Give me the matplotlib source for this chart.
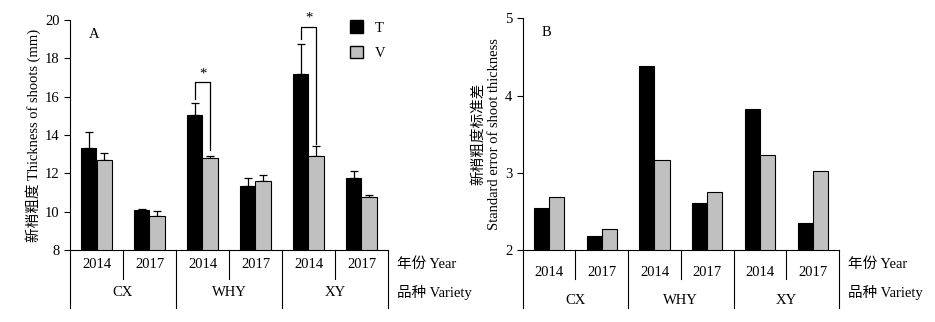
import numpy as np
import matplotlib
matplotlib.use("Agg")
import matplotlib.pyplot as plt
from matplotlib.patches import Patch

plt.rcParams['font.family'] = ['Liberation Serif', 'Noto Sans CJK SC']
plt.rcParams['font.size'] = 10.5

years = ['2014', '2017', '2014', '2017', '2014', '2017']
varieties = ['CX', 'WHY', 'XY']

# panel A: mean thickness of shoots (mm) and error
thick_T = [13.32, 10.07, 15.03, 11.32, 17.16, 11.74]
thick_V = [12.68, 9.76, 12.78, 11.58, 12.89, 10.75]
err_T = [0.82, 0.08, 0.62, 0.45, 1.57, 0.40]
err_V = [0.40, 0.30, 0.11, 0.32, 0.52, 0.10]

# panel B: standard error of shoot thickness
se_T = [2.54, 2.18, 4.38, 2.61, 3.83, 2.35]
se_V = [2.69, 2.27, 3.17, 2.75, 3.23, 3.02]

fig = plt.figure(figsize=(9.35, 3.22), dpi=100)
axA = fig.add_axes([70/935, 1-250/322, 318/935, 230/322])
axB = fig.add_axes([522.7/935, 1-250/322, 316.3/935, 231.7/322])

x = np.arange(6) + 0.5
gray = '#c0c0c0'


def style(ax, hpx):
    for s in ['top', 'right']:
        ax.spines[s].set_visible(False)
    ax.set_xlim(0, 6)
    ax.set_xticks([])
    ax.tick_params(axis='y', direction='out', length=4, width=0.8)
    tr = ax.get_xaxis_transform()
    # dividers below axis
    for xv in [1, 3, 5]:
        ax.plot([xv, xv], [0, -29/hpx], color='k', lw=0.8, transform=tr, clip_on=False)
    for xv in [0, 2, 4, 6]:
        ax.plot([xv, xv], [0, -58/hpx], color='k', lw=0.8, transform=tr, clip_on=False)


# ---- panel A
w = 0.30
axA.bar(x - w/2, thick_T, w, color='black', edgecolor='black', lw=0.8, zorder=2)
axA.bar(x + w/2, thick_V, w, color=gray, edgecolor='black', lw=0.8, zorder=2)
axA.errorbar(x - w/2, thick_T, yerr=[np.zeros(6), err_T], fmt='none', ecolor='black',
             elinewidth=0.9, capsize=3, capthick=0.9, zorder=1)
axA.errorbar(x + w/2, thick_V, yerr=[np.zeros(6), err_V], fmt='none', ecolor='black',
             elinewidth=0.9, capsize=3, capthick=0.9, zorder=1)
axA.set_ylim(8, 20)
axA.set_yticks(np.arange(8, 21, 2))
style(axA, 230)

# significance brackets
for i, (lb, top, rb, st) in [(2, (15.89, 16.75, 13.2, 17.2)), (4, (19.02, 19.65, 13.55, 20.1))]:
    axA.plot([x[i] - w/2, x[i] - w/2, x[i] + w/2, x[i] + w/2], [lb, top, top, rb],
             color='black', lw=0.9, clip_on=False)
    axA.text(x[i], st, '*', ha='center', va='center', fontsize=10.5, clip_on=False)

axA.text(0.06, 0.935, 'A', transform=axA.transAxes, ha='left', va='center')
axA.set_ylabel('新梢粗度 Thickness of shoots (mm)', labelpad=3)

trA = axA.get_xaxis_transform()
for i in range(6):
    axA.text(x[i], -14/230, years[i], transform=trA, ha='center', va='center')
for j in range(3):
    axA.text(2*j + 1, -42/230, varieties[j], transform=trA, ha='center', va='center')
axA.text(6.17, -14/230, '年份 Year', transform=trA, ha='left', va='center')
axA.text(6.17, -42/230, '品种 Variety', transform=trA, ha='left', va='center')

axA.legend(handles=[Patch(facecolor='black', edgecolor='black', label='T'),
                    Patch(facecolor=gray, edgecolor='black', label='V')],
           loc='upper left', bbox_to_anchor=(0.84, 1.055), frameon=False,
           handlelength=0.9, handleheight=0.9, handletextpad=0.8, labelspacing=0.8)

# ---- panel B
wb = 0.285
axB.bar(x - wb/2, se_T, wb, color='black', edgecolor='black', lw=0.8)
axB.bar(x + wb/2, se_V, wb, color=gray, edgecolor='black', lw=0.8)
axB.set_ylim(2, 5)
axB.set_yticks([2, 3, 4, 5])
style(axB, 231.7)
axB.text(0.06, 0.94, 'B', transform=axB.transAxes, ha='left', va='center')
axB.set_ylabel('新梢粗度标准差\nStandard error of shoot thickness', labelpad=3, linespacing=1.2)

trB = axB.get_xaxis_transform()
for i in range(6):
    axB.text(x[i], -22/231.7, years[i], transform=trB, ha='center', va='center')
for j in range(3):
    axB.text(2*j + 1, -51/231.7, varieties[j], transform=trB, ha='center', va='center')
axB.text(6.17, -14/231.7, '年份 Year', transform=trB, ha='left', va='center')
axB.text(6.17, -42/231.7, '品种 Variety', transform=trB, ha='left', va='center')

fig.savefig('out.png', dpi=100)
